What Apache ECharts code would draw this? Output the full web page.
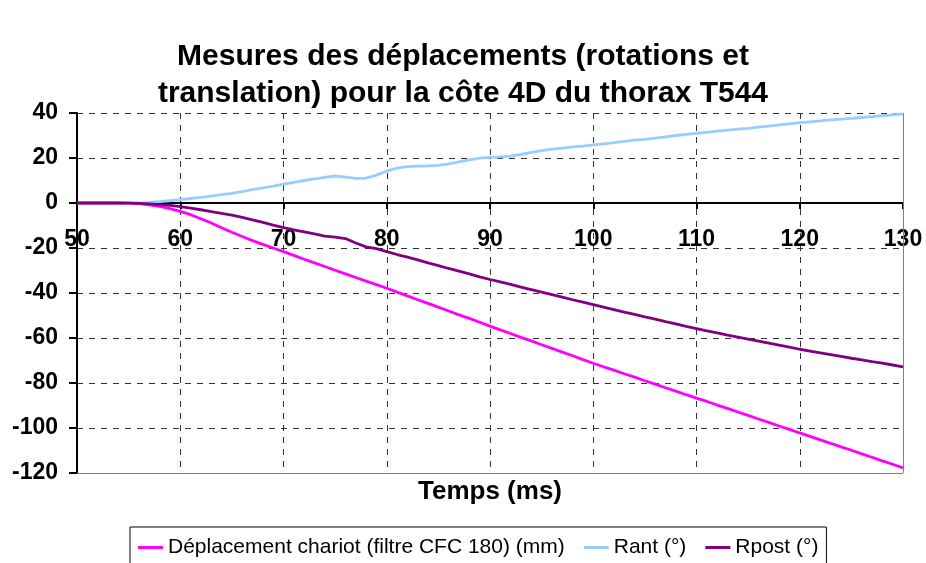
<!DOCTYPE html>
<html>
<head>
<meta charset="utf-8">
<script src="https://cdn.jsdelivr.net/npm/echarts@6/dist/echarts.min.js"></script>
<style>
  html, body { margin: 0; padding: 0; background: #fff; }
  #chart { width: 926px; height: 563px; }
</style>
</head>
<body>
<div id="chart"></div>
<script>
// Time base (ms)
const temps = [
  50, 51, 52, 53, 54, 55, 56, 57, 58, 59,
  60, 61, 62, 63, 64, 65, 66, 67, 68, 69,
  70, 71, 72, 73, 74, 75, 76, 77, 78, 79,
  80, 81, 82, 83, 84, 85, 86, 87, 88, 89,
  90, 91, 92, 93, 94, 95, 96, 97, 98, 99,
  100, 101, 102, 103, 104, 105, 106, 107, 108, 109,
  110, 111, 112, 113, 114, 115, 116, 117, 118, 119,
  120, 121, 122, 123, 124, 125, 126, 127, 128, 129,
  130
];

// Carriage displacement, CFC 180 filtered (mm)
const chariot = [
  0, 0, 0, 0, -0.05, -0.1, -0.3, -0.8, -1.5, -2.5,
  -3.7, -5.2, -7.0, -8.9, -11.0, -13.0, -14.9, -16.7, -18.4, -20.0,
  -21.6, -23.3, -25.0, -26.6, -28.2, -29.9, -31.5, -33.1, -34.7, -36.3,
  -37.9, -39.6, -41.3, -43.0, -44.6, -46.3, -48.0, -49.7, -51.3, -53.0,
  -54.7, -56.4, -58.0, -59.7, -61.3, -63.0, -64.6, -66.3, -67.9, -69.6,
  -71.2, -72.8, -74.3, -75.9, -77.4, -79.0, -80.5, -82.1, -83.6, -85.2,
  -86.7, -88.2, -89.8, -91.3, -92.9, -94.4, -96.0, -97.5, -99.1, -100.6,
  -102.2, -103.7, -105.3, -106.8, -108.4, -109.9, -111.5, -113.0, -114.6, -116.1,
  -117.7
];

// Anterior rotation (deg)
const rant = [
  0, 0, 0, 0, 0, 0, 0.1, 0.3, 0.6, 1.0,
  1.5, 2.0, 2.5, 3.1, 3.7, 4.3, 5.1, 5.9, 6.7, 7.5,
  8.4, 9.2, 10.0, 10.7, 11.4, 12.0, 11.5, 10.9, 11.1, 12.4,
  14.2, 15.5, 16.2, 16.4, 16.5, 16.7, 17.4, 18.3, 19.2, 19.9,
  20.3, 20.5, 20.8, 21.6, 22.5, 23.3, 23.9, 24.4, 24.9, 25.3,
  25.8, 26.3, 26.8, 27.4, 27.9, 28.3, 28.8, 29.4, 30.0, 30.5,
  31.0, 31.4, 31.9, 32.4, 32.8, 33.2, 33.7, 34.2, 34.7, 35.2,
  35.7, 36.1, 36.5, 36.9, 37.3, 37.6, 38.0, 38.4, 38.8, 39.2,
  39.6
];

// Posterior rotation (deg)
const rpost = [
  0, 0, 0, 0, 0, -0.1, -0.2, -0.4, -0.7, -1.1,
  -1.6, -2.3, -3.0, -3.8, -4.6, -5.4, -6.4, -7.5, -8.6, -9.8,
  -10.9, -11.9, -12.8, -13.7, -14.7, -15.2, -15.8, -17.8, -19.5, -20.3,
  -21.6, -22.9, -24.1, -25.3, -26.6, -27.8, -29.1, -30.3, -31.5, -32.8,
  -34.0, -35.1, -36.2, -37.4, -38.5, -39.6, -40.7, -41.8, -43.0, -44.1,
  -45.2, -46.3, -47.4, -48.5, -49.5, -50.6, -51.6, -52.7, -53.7, -54.8,
  -55.8, -56.8, -57.7, -58.7, -59.6, -60.5, -61.4, -62.3, -63.2, -64.1,
  -65.0, -65.8, -66.6, -67.4, -68.2, -69.0, -69.7, -70.5, -71.2, -72.0,
  -72.8
];

const seriesNames = ['Déplacement chariot (filtre CFC 180) (mm)', 'Rant (°)', 'Rpost (°)'];
const seriesColors = ['#ff00ff', '#99ccff', '#800080'];
const xTicks = { min: 50, max: 130, interval: 10 };
const yTicks = { min: -120, max: 40, interval: 20 };

const pairs = (ys) => temps.map((t, i) => [t, ys[i]]);
const font = 'Arial, "Liberation Sans", sans-serif';
const gridDash = { color: '#333', type: [6, 6], width: 1 };

// Solid grey frame along the bottom and right edges of the plot area
const frameLines = {
  silent: true,
  symbol: 'none',
  label: { show: false },
  lineStyle: { color: '#808080', width: 1, type: 'solid' },
  data: [{ yAxis: yTicks.min }, { xAxis: xTicks.max }]
};

const chart = echarts.init(document.getElementById('chart'), null, { renderer: 'canvas' });
chart.setOption({
  animation: false,
  backgroundColor: '#fff',
  title: [
    {
      text: 'Mesures des déplacements (rotations et\ntranslation) pour la côte 4D du thorax T544',
      left: 'center',
      top: 38,
      padding: 0,
      textStyle: { fontFamily: font, fontWeight: 'bold', fontSize: 30, lineHeight: 37, color: '#000' }
    },
    {
      // x-axis caption, kept below the plot while the axis line sits at zero
      text: 'Temps (ms)',
      left: 490,
      textAlign: 'center',
      top: 479,
      padding: 0,
      textStyle: { fontFamily: font, fontWeight: 'bold', fontSize: 26, color: '#000' }
    }
  ],
  grid: { left: 77, right: 23, top: 113, bottom: 90, containLabel: false },
  legend: {
    left: 130,
    top: 527,
    data: seriesNames.map((n) => ({ name: n, icon: 'rect' })),
    itemWidth: 25,
    itemHeight: 3,
    itemGap: 19,
    padding: [10, 8, 12, 8],
    borderColor: '#000',
    borderWidth: 1,
    textStyle: { fontFamily: font, fontSize: 21, color: '#000' }
  },
  xAxis: {
    type: 'value',
    min: xTicks.min, max: xTicks.max, interval: xTicks.interval,
    axisLine: { onZero: true, lineStyle: { color: '#000', width: 2 } },
    axisTick: { show: true, inside: false, length: 6, lineStyle: { color: '#000', width: 2 } },
    // tick labels sit just under the zero line, between the 0 and -20 gridlines
    axisLabel: { margin: -245, fontFamily: font, fontSize: 23, fontWeight: 'bold', color: '#000' },
    splitLine: { show: true, lineStyle: gridDash }
  },
  yAxis: {
    type: 'value',
    min: yTicks.min, max: yTicks.max, interval: yTicks.interval,
    axisLine: { show: true, onZero: false, lineStyle: { color: '#000', width: 2 } },
    axisTick: { show: true, inside: false, length: 8, lineStyle: { color: '#000', width: 2 } },
    axisLabel: { margin: 19, fontFamily: font, fontSize: 23, fontWeight: 'bold', color: '#000' },
    splitLine: { show: true, lineStyle: gridDash }
  },
  series: [
    { name: seriesNames[0], type: 'line', data: pairs(chariot), z: 3,
      showSymbol: false, symbol: 'none', lineStyle: { color: seriesColors[0], width: 2.8 }, itemStyle: { color: seriesColors[0] },
      markLine: frameLines },
    { name: seriesNames[1], type: 'line', data: pairs(rant), z: 3,
      showSymbol: false, symbol: 'none', lineStyle: { color: seriesColors[1], width: 2.8 }, itemStyle: { color: seriesColors[1] } },
    { name: seriesNames[2], type: 'line', data: pairs(rpost), z: 3,
      showSymbol: false, symbol: 'none', lineStyle: { color: seriesColors[2], width: 2.8 }, itemStyle: { color: seriesColors[2] } }
  ]
});
</script>
</body>
</html>
